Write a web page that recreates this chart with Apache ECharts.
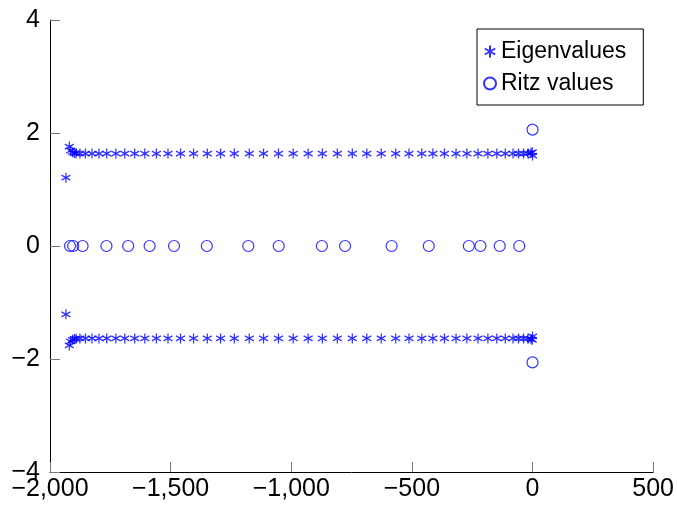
<!DOCTYPE html>
<html>
<head>
<meta charset="utf-8">
<script src="https://cdn.jsdelivr.net/npm/echarts@6/dist/echarts.min.js"></script>
<style>
html,body{margin:0;padding:0;background:#fff;}
#chart{width:677px;height:505px;}
</style>
</head>
<body>
<div id="chart"></div>
<script>
// Eigenvalues: real parts and positive imaginary parts (conjugates are mirrored)
const eigRe = [-1934, -1920, -1914, -1906, -1899, -1892, -1876, -1853, -1826, -1797,
  -1765, -1727, -1690, -1649, -1607, -1559, -1511, -1459, -1405, -1348,
  -1293, -1236, -1174, -1115, -1053, -992, -930, -871, -809, -747,
  -687, -627, -567, -512, -459, -413, -365, -317, -272, -226,
  -185, -148, -113, -81, -58, -37, -19, -6, -1, 0];
const eigIm = [1.21, 1.76, 1.69, 1.66, 1.645, 1.64, 1.635, 1.635, 1.635, 1.635,
  1.635, 1.635, 1.635, 1.635, 1.635, 1.635, 1.635, 1.635, 1.635, 1.635,
  1.635, 1.635, 1.635, 1.635, 1.635, 1.635, 1.635, 1.635, 1.635, 1.635,
  1.635, 1.635, 1.635, 1.635, 1.635, 1.635, 1.635, 1.635, 1.635, 1.635,
  1.635, 1.635, 1.635, 1.635, 1.635, 1.635, 1.64, 1.65, 1.66, 1.60];
// Ritz values
const ritzRe = [-1917, -1904, -1865, -1766, -1676, -1587, -1486, -1350, -1178, -1052,
  -873, -777, -584, -430, -264, -216, -136, -55, 0, 0];
const ritzIm = [0, 0, 0, 0, 0, 0, 0, 0, 0, 0, 0, 0, 0, 0, 0, 0, 0, 0, 2.06, -2.06];

const xTicks = [-2000, -1500, -1000, -500, 0, 500];
const yTicks = [-4, -2, 0, 2, 4];

const eigData = eigRe.map((r, i) => [r, eigIm[i]]).concat(eigRe.map((r, i) => [r, -eigIm[i]]));
const ritzData = ritzRe.map((r, i) => [r, ritzIm[i]]);

function fmt(v) {
  const a = Math.abs(v).toString().replace(/\B(?=(\d{3})+(?!\d))/g, ',');
  return v < 0 ? '\u2212' + a : a;
}
const FONT = 'Liberation Sans';
const BLUE = '#0000ff';
const STAR = 'path://M0,-1L0,1M-0.866,-0.5L0.866,0.5M-0.866,0.5L0.866,-0.5';

const chart = echarts.init(document.getElementById('chart'), null, {renderer: 'canvas'});
chart.setOption({
  animation: false,
  backgroundColor: '#fff',
  grid: {left: 50, right: 22, top: 20, bottom: 33, containLabel: false},
  xAxis: {
    type: 'value', min: xTicks[0], max: xTicks[xTicks.length - 1], interval: 500,
    axisLine: {show: true, onZero: false, lineStyle: {color: '#000', width: 1}},
    axisTick: {show: true, inside: true, length: 10, lineStyle: {color: '#777', width: 1}},
    splitLine: {show: false},
    axisLabel: {fontFamily: FONT, fontSize: 25, color: '#000', margin: 5, formatter: fmt}
  },
  yAxis: {
    type: 'value', min: yTicks[0], max: yTicks[yTicks.length - 1], interval: 2,
    axisLine: {show: true, onZero: false, lineStyle: {color: '#000', width: 1}},
    axisTick: {show: true, inside: true, length: 10, lineStyle: {color: '#777', width: 1}},
    splitLine: {show: false},
    axisLabel: {fontFamily: FONT, fontSize: 25, color: '#000', margin: 10, formatter: fmt}
  },
  legend: {
    orient: 'vertical', left: 477, top: 29,
    padding: [11, 17, 10, 6], itemGap: 9, itemWidth: 12, itemHeight: 12,
    borderColor: '#000', borderWidth: 1, backgroundColor: '#fff',
    textStyle: {fontFamily: FONT, fontSize: 23, color: '#000'},
    data: ['Eigenvalues', 'Ritz values']
  },
  series: [
    {
      name: 'Eigenvalues', type: 'scatter', data: eigData,
      symbol: STAR, symbolSize: [9, 10],
      itemStyle: {color: BLUE, borderColor: BLUE, borderWidth: 1.3},
      z: 3
    },
    {
      name: 'Ritz values', type: 'scatter', data: ritzData,
      symbol: 'circle', symbolSize: 11,
      itemStyle: {color: 'rgba(0,0,0,0)', borderColor: BLUE, borderWidth: 1.2},
      z: 2
    }
  ]
});
</script>
</body>
</html>
